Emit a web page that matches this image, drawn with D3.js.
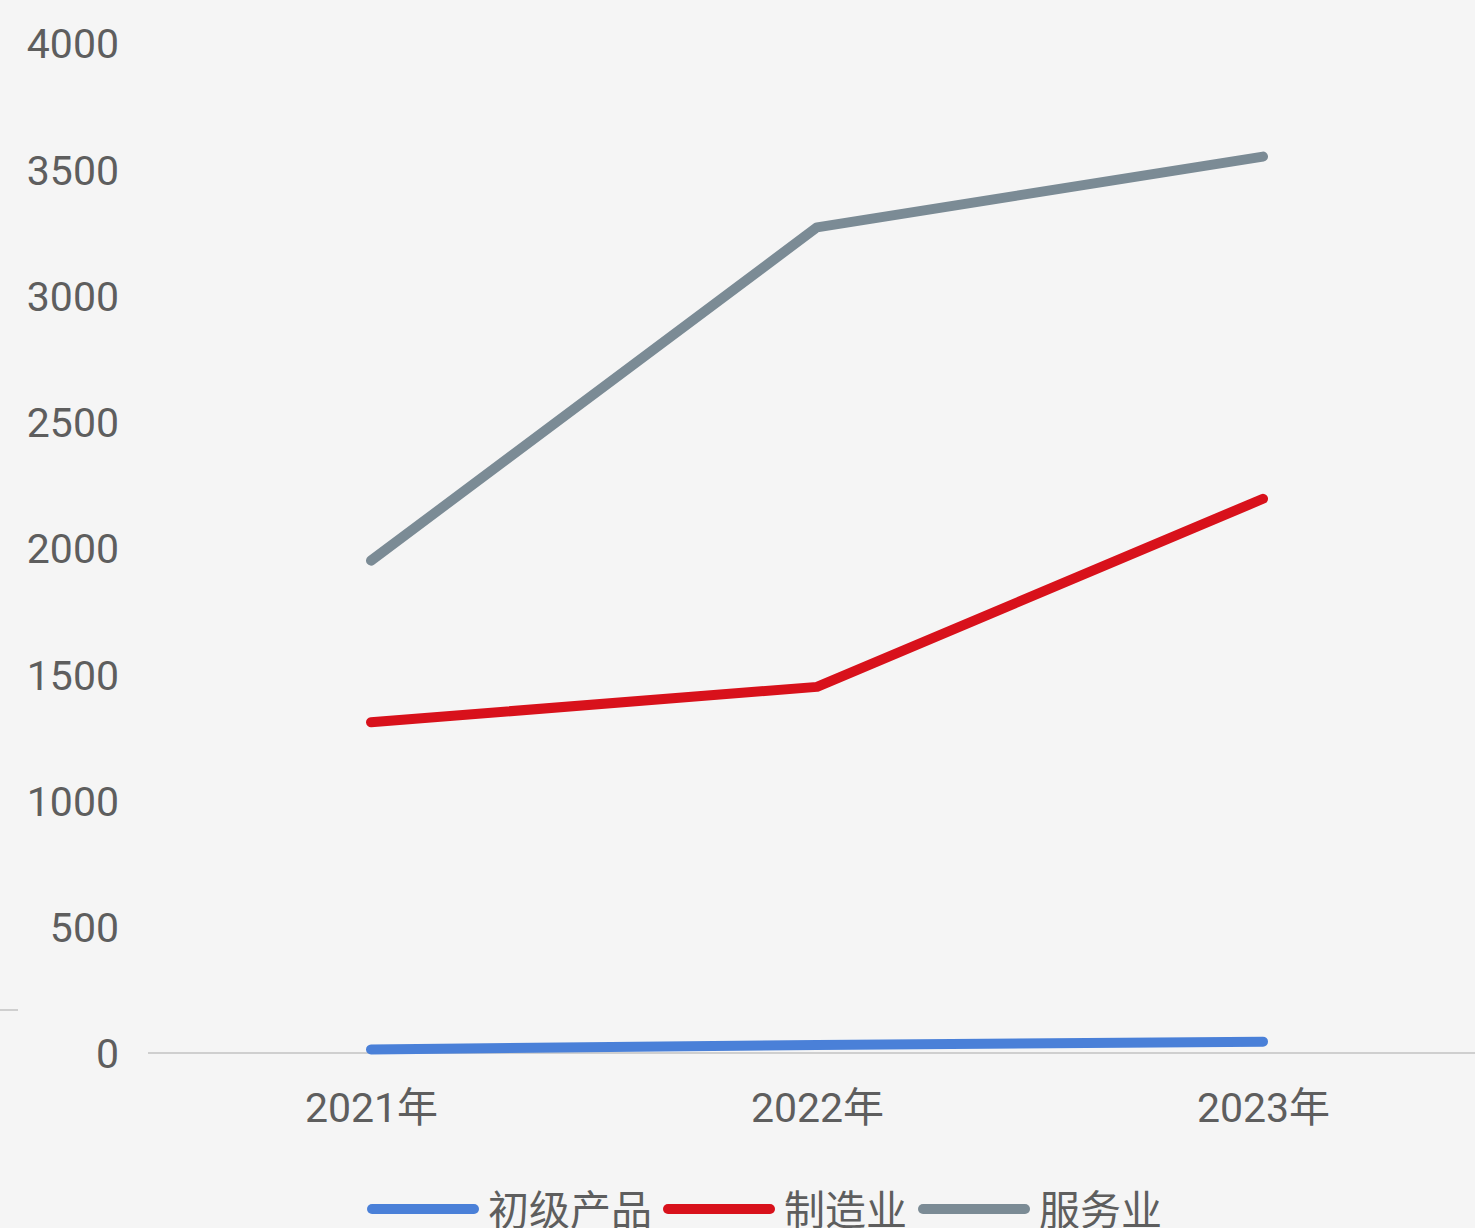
<!DOCTYPE html>
<html>
<head>
<meta charset="utf-8">
<script src="https://cdn.jsdelivr.net/npm/d3@7"></script>
<style>
  html, body { margin: 0; padding: 0; background: #f5f5f5; }
  svg { display: block; }
  text { font-family: Roboto, "Noto Sans CJK SC", sans-serif; fill: #5e5e5e; }
</style>
</head>
<body>
<script>
// Chart data
const years = ["2021年", "2022年", "2023年"];
const seriesNames = ["初级产品", "制造业", "服务业"];
const primaryValues = [14, 32, 45];
const manufacturingValues = [1310, 1450, 2195];
const serviceValues = [1950, 3270, 3550];
const yTicks = [0, 500, 1000, 1500, 2000, 2500, 3000, 3500, 4000];
const seriesColors = ["#4a80d8", "#d8111b", "#7b8b95"];

const width = 1475, height = 1228;
const svg = d3.select("body").append("svg")
  .attr("width", width).attr("height", height);

svg.append("rect").attr("width", width).attr("height", height).attr("fill", "#f5f5f5");

const plotLeft = 148, plotRight = 1486;
const x = d3.scalePoint().domain(years).range([plotLeft, plotRight]).padding(0.5);
const y = d3.scaleLinear().domain([0, 4000]).range([1053, 43]);

// y-axis labels (no axis line)
const yAxis = d3.axisLeft(y).tickValues(yTicks).tickSize(0).tickPadding(0).tickFormat(d3.format("d"));
const gy = svg.append("g").attr("transform", "translate(119,0)").call(yAxis);
gy.select(".domain").remove();
gy.selectAll("text")
  .attr("font-size", 41)
  .attr("dy", "0.36em")
  .style("font-family", "Roboto, 'Noto Sans CJK SC', sans-serif")
  .attr("fill", "#5e5e5e");

// baseline
svg.append("line")
  .attr("x1", plotLeft).attr("x2", width)
  .attr("y1", y(0)).attr("y2", y(0))
  .attr("stroke", "#cfcfcf").attr("stroke-width", 2);

// short mark at the far left edge
svg.append("line")
  .attr("x1", 0).attr("x2", 18)
  .attr("y1", 1010).attr("y2", 1010)
  .attr("stroke", "#cfcfcf").attr("stroke-width", 2);

// x-axis labels
const xAxis = d3.axisBottom(x).tickSize(0).tickPadding(0);
const gx = svg.append("g").attr("transform", "translate(0,1093)").call(xAxis);
gx.select(".domain").remove();
gx.selectAll("text")
  .attr("font-size", 41)
  .attr("dy", "0.71em")
  .style("font-family", "Roboto, 'Noto Sans CJK SC', sans-serif")
  .attr("fill", "#5e5e5e");

// lines
const allSeries = [primaryValues, manufacturingValues, serviceValues];
const line = d3.line().x((d, i) => x(years[i])).y(d => y(d));
allSeries.forEach((vals, i) => {
  svg.append("path")
    .datum(vals)
    .attr("d", line)
    .attr("fill", "none")
    .attr("stroke", seriesColors[i])
    .attr("stroke-width", 10)
    .attr("stroke-linecap", "round")
    .attr("stroke-linejoin", "round");
});

// legend
const legend = svg.append("g").attr("transform", "translate(0,1209)");
let lx = 372;
seriesNames.forEach((name, i) => {
  legend.append("line")
    .attr("x1", lx).attr("x2", lx + 102)
    .attr("y1", 0).attr("y2", 0)
    .attr("stroke", seriesColors[i]).attr("stroke-width", 10)
    .attr("stroke-linecap", "round");
  const t = legend.append("text")
    .attr("x", lx + 116).attr("y", 0)
    .attr("dy", "0.38em")
    .attr("font-size", 41)
    .text(name);
  const w = t.node().getComputedTextLength();
  lx = lx + 116 + w + 16;
});
</script>
</body>
</html>
